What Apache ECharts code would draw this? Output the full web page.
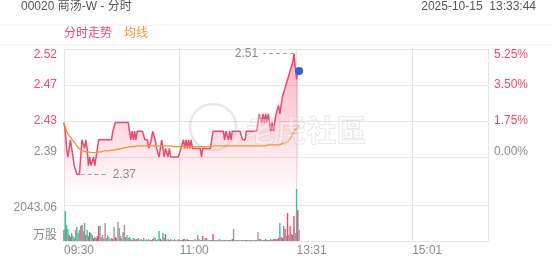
<!DOCTYPE html>
<html><head><meta charset="utf-8">
<script src="https://cdn.jsdelivr.net/npm/echarts@6/dist/echarts.min.js"></script>
<style>html,body{margin:0;padding:0;background:#fff}#c{width:552px;height:265px}</style>
</head><body><div id="c"></div>
<script>
const titleText = '00020 商汤-W - 分时';
const stampText = '2025-10-15  13:33:44';
const legendNames = ['分时走势', '均线'];
const preClose = 2.39;
const tickLabels = ['09:30', '11:00', '13:31', '15:01'];
const volMidLabel = '2043.06';
const volStep = 2043.06;
const volUnit = '万股';

const prices = [
  2.43,2.42,2.40,2.39,2.40,2.41,2.40,2.39,2.38,2.38,
  2.37,2.37,2.37,2.37,2.41,2.41,2.40,2.41,2.40,2.38,
  2.39,2.38,2.38,2.39,2.38,2.39,2.40,2.41,2.41,2.41,
  2.41,2.41,2.41,2.41,2.41,2.41,2.41,2.41,2.42,2.42,
  2.43,2.43,2.43,2.43,2.43,2.43,2.43,2.43,2.43,2.43,
  2.43,2.42,2.41,2.42,2.41,2.42,2.41,2.42,2.42,2.42,
  2.42,2.42,2.42,2.41,2.41,2.41,2.40,2.40,2.41,2.42,
  2.42,2.41,2.40,2.40,2.39,2.40,2.41,2.40,2.39,2.40,
  2.40,2.39,2.40,2.39,2.39,2.39,2.39,2.39,2.39,2.39,
  2.39,2.40,2.40,2.41,2.40,2.41,2.40,2.41,2.40,2.41,
  2.40,2.40,2.40,2.40,2.40,2.40,2.40,2.39,2.40,2.40,
  2.40,2.40,2.40,2.40,2.40,2.41,2.42,2.42,2.42,2.42,
  2.42,2.42,2.42,2.42,2.42,2.41,2.42,2.42,2.41,2.42,
  2.41,2.42,2.42,2.42,2.42,2.42,2.42,2.42,2.42,2.41,
  2.41,2.41,2.42,2.42,2.42,2.42,2.42,2.42,2.42,2.42,
  2.42,2.42,2.44,2.44,2.43,2.44,2.43,2.44,2.43,2.44,
  2.43,2.42,2.43,2.42,2.43,2.44,2.44,2.45,2.44,2.45,
  2.46,2.46,2.47,2.47,2.48,2.48,2.49,2.49,2.50,2.51,
  2.51,2.48,2.49,2.49
];

const avgPrices = [
  2.430,2.425,2.420,2.417,2.415,2.413,2.411,2.409,2.407,2.405,
  2.403,2.401,2.399,2.398,2.397,2.397,2.396,2.396,2.396,2.396,
  2.395,2.395,2.395,2.395,2.395,2.395,2.395,2.396,2.396,2.396,
  2.396,2.397,2.397,2.397,2.397,2.397,2.398,2.398,2.398,2.398,
  2.398,2.399,2.399,2.399,2.400,2.400,2.400,2.401,2.401,2.401,
  2.401,2.402,2.402,2.402,2.402,2.402,2.403,2.403,2.403,2.403,
  2.403,2.403,2.403,2.403,2.403,2.403,2.403,2.403,2.403,2.403,
  2.403,2.403,2.403,2.403,2.403,2.403,2.403,2.403,2.403,2.403,
  2.403,2.403,2.403,2.403,2.403,2.402,2.402,2.402,2.402,2.402,
  2.402,2.402,2.402,2.402,2.402,2.402,2.402,2.402,2.402,2.402,
  2.402,2.402,2.402,2.402,2.402,2.402,2.402,2.402,2.402,2.402,
  2.402,2.402,2.402,2.402,2.402,2.402,2.403,2.403,2.403,2.403,
  2.403,2.403,2.403,2.403,2.403,2.403,2.403,2.403,2.403,2.403,
  2.403,2.403,2.403,2.403,2.403,2.403,2.403,2.403,2.403,2.403,
  2.403,2.403,2.403,2.403,2.403,2.403,2.403,2.403,2.403,2.403,
  2.403,2.403,2.403,2.403,2.403,2.403,2.403,2.403,2.404,2.404,
  2.404,2.404,2.404,2.404,2.404,2.404,2.404,2.404,2.405,2.405,
  2.405,2.406,2.406,2.407,2.408,2.410,2.412,2.414,2.416,2.419,
  2.422,2.424,2.425,2.426
];

const volumes = [
  624,1703,908,681,340,227,454,284,170,624,
  795,454,624,851,908,568,1022,340,624,284,
  511,454,340,170,227,170,284,851,851,227,
  340,170,1022,170,340,227,114,170,114,795,
  227,170,1078,738,284,170,511,908,227,340,
  170,227,114,57,170,114,57,114,170,57,
  114,57,170,57,114,57,114,57,57,114,
  227,170,57,114,568,114,57,454,170,397,
  57,114,57,114,57,57,114,57,57,114,
  57,57,57,114,114,57,114,57,57,57,
  57,57,114,57,340,114,57,57,284,57,
  170,170,57,57,57,57,397,57,57,57,
  57,114,57,57,57,57,57,57,57,57,
  57,114,681,57,57,57,57,57,57,57,
  57,57,57,57,57,57,57,57,57,57,
  57,511,114,114,57,57,57,114,57,57,
  57,114,57,114,114,114,114,170,1022,227,
  170,851,681,284,1589,340,851,397,340,1419,
  454,2951,1759,624
];

const RED = '#ee4a70', GREEN = '#31c3a2', GRAY_BAR = '#9a9a9a', ORANGE = '#f5952f';
const TXT = '#8c8c8c', GRID = '#e6e6e6';
const FONT = "'Liberation Sans','Noto Sans CJK SC',sans-serif";

function buildTimes() {
  const out = [];
  const add = (a, b) => { for (let t = a; t <= b; t++) out.push(String(Math.floor(t / 60)).padStart(2, '0') + ':' + String(t % 60).padStart(2, '0')); };
  add(9 * 60 + 30, 12 * 60); add(13 * 60 + 1, 16 * 60);
  return out;
}
const times = buildTimes();
const labelIdx = tickLabels.map(t => times.indexOf(t));
const lineIdx = labelIdx.concat([times.length - 1]);
const pct = p => (p / preClose - 1) * 100;

const maxP = Math.max(...prices), minP = Math.min(...prices);
const maxI = prices.indexOf(maxP), minI = prices.lastIndexOf(minP);
const lastI = prices.length - 1;

const volData = volumes.map((v, i) => {
  const prev = i === 0 ? preClose : prices[i - 1];
  const c = prices[i] > prev ? RED : (prices[i] < prev ? GREEN : GRAY_BAR);
  return { value: v, itemStyle: { color: c } };
});

const chart = echarts.init(document.getElementById('c'));
chart.setOption({
  animation: false,
  textStyle: { fontFamily: FONT },
  graphic: [
    { type: 'text', left: 21, top: 1, style: { text: titleText, fill: '#555', font: '12px ' + FONT } },
    { type: 'text', right: 16, top: 1, style: { text: stampText, fill: '#555', font: '12px ' + FONT } },
    { type: 'rect', shape: { x: -1, y: 25, width: 554, height: 20 }, style: { fill: 'none', stroke: '#f0f0f0', lineWidth: 1 } },
    { type: 'text', left: 64, top: 28, style: { text: legendNames[0], fill: RED, font: '12px ' + FONT } },
    { type: 'text', left: 124, top: 28, style: { text: legendNames[1], fill: ORANGE, font: '12px ' + FONT } },
    { type: 'circle', z: 100, shape: { cx: 213, cy: 127, r: 23 }, style: { fill: 'none', stroke: 'rgba(150,150,150,0.22)', lineWidth: 2.5 } },
    { type: 'text', z: 100, left: 246, top: 114, style: { text: '老虎社區', fill: 'rgba(255,255,255,0.3)', stroke: 'rgba(150,150,150,0.25)', lineWidth: 1, font: 'bold 30px "Noto Sans CJK SC"' } }
  ],
  grid: [
    { left: 64, right: 64, top: 49, height: 144 },
    { left: 64, right: 64, top: 169, height: 72 }
  ],
  xAxis: [
    { type: 'category', gridIndex: 0, data: times, boundaryGap: false,
      axisLine: { show: false }, axisTick: { show: false }, axisLabel: { show: false },
      splitLine: { show: true, interval: (i) => lineIdx.includes(i), lineStyle: { color: GRID } } },
    { type: 'category', gridIndex: 1, data: times, boundaryGap: false,
      axisLine: { show: true, lineStyle: { color: GRID } }, axisTick: { show: false },
      axisLabel: { interval: (i) => labelIdx.includes(i), align: 'left', color: TXT, fontSize: 12, margin: 4 },
      splitLine: { show: true, interval: (i) => lineIdx.includes(i), lineStyle: { color: GRID } } }
  ],
  yAxis: [
    { type: 'value', gridIndex: 0, position: 'left', min: -1.75, max: 5.25, interval: 1.75,
      axisLine: { show: false }, axisTick: { show: false },
      splitLine: { show: true, lineStyle: { color: ['rgba(0,0,0,0)', GRID, GRID, GRID, GRID] } },
      axisLabel: { margin: 7, fontSize: 12,
        formatter: v => {
          if (v < -1) return '';
          const s = (preClose * (1 + v / 100)).toFixed(2);
          const k = Math.abs(v) < 1e-6 ? 'g0' : (v > 5 ? 'rt' : 'r');
          return '{' + k + '|' + s + '}';
        },
        rich: { r: { color: RED, fontSize: 12 }, rt: { color: RED, fontSize: 12, padding: [12, 0, 0, 0] }, g0: { color: TXT, fontSize: 12, padding: [0, 0, 10, 0] } } } },
    { type: 'value', gridIndex: 0, position: 'right', min: -1.75, max: 5.25, interval: 1.75,
      axisLine: { show: false }, axisTick: { show: false }, splitLine: { show: false },
      axisLabel: { margin: 6, fontSize: 12,
        formatter: v => {
          if (v < -1) return '';
          const s = (Math.abs(v) < 1e-6 ? 0 : v).toFixed(2) + '%';
          const k = Math.abs(v) < 1e-6 ? 'g0' : (v > 5 ? 'rt' : 'r');
          return '{' + k + '|' + s + '}';
        },
        rich: { r: { color: RED, fontSize: 12 }, rt: { color: RED, fontSize: 12, padding: [12, 0, 0, 0] }, g0: { color: TXT, fontSize: 12, padding: [0, 0, 10, 0] } } } },
    { type: 'value', gridIndex: 1, min: 0, max: volStep * 2, interval: volStep,
      axisLine: { show: false }, axisTick: { show: false },
      splitLine: { show: true, lineStyle: { color: [GRID, GRID, 'rgba(0,0,0,0)'] } },
      axisLabel: { margin: 7, fontSize: 12,
        formatter: v => {
          if (v === 0) return '{b|' + volUnit + '}';
          if (Math.abs(v - volStep) < 0.01) return '{m|' + volMidLabel + '}';
          return '';
        },
        rich: { b: { color: TXT, fontSize: 12, padding: [0, 0, 10, 0] }, m: { color: TXT, fontSize: 12, padding: [6, 0, 0, 0] } } } }
  ],
  series: [
    { type: 'line', name: legendNames[0], xAxisIndex: 0, yAxisIndex: 0, data: prices.map(pct),
      showSymbol: false, lineStyle: { color: RED, width: 1.5 }, itemStyle: { color: RED },
      areaStyle: { origin: 'start', color: new echarts.graphic.LinearGradient(0, 0, 0, 1, [
        { offset: 0, color: 'rgba(240,75,110,0.6)' }, { offset: 1, color: 'rgba(240,75,110,0.02)' }]) },
      markLine: { silent: true, symbol: ['none', 'none'],
        lineStyle: { color: '#a0a0a0', type: [4, 3], width: 1 },
        label: { show: true, position: 'end', formatter: '{b}', color: '#8c8c8c', fontSize: 12, distance: 5 },
        data: [
          [{ name: maxP.toFixed(2), coord: [maxI, pct(maxP)] }, { coord: [maxI - 24, pct(maxP)] }],
          [{ name: minP.toFixed(2), coord: [minI, pct(minP)] }, { coord: [minI + 21, pct(minP)] }]
        ] },
      markPoint: { silent: true, symbol: 'circle', symbolSize: 8, itemStyle: { color: '#2f62d6' }, label: { show: false },
        data: [{ coord: [lastI, pct(prices[lastI])] }] } },
    { type: 'line', name: legendNames[1], xAxisIndex: 0, yAxisIndex: 0, data: avgPrices.map(pct),
      showSymbol: false, lineStyle: { color: ORANGE, width: 1.3 } },
    { type: 'bar', xAxisIndex: 1, yAxisIndex: 2, data: volData, barWidth: 1.4 }
  ]
});
</script></body></html>
